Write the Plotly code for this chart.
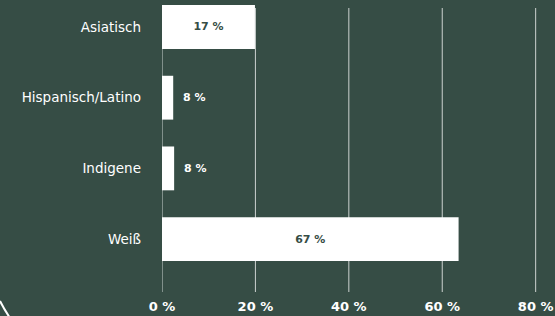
import plotly.graph_objects as go

categories = ["Asiatisch", "Hispanisch/Latino", "Indigene", "Weiß"]
bar_values = [19.9, 2.4, 2.6, 63.5]
bar_labels = ["17 %", "8 %", "8 %", "67 %"]
tick_values = [0, 20, 40, 60, 80]
tick_labels = ["0 %", "20 %", "40 %", "60 %", "80 %"]

BG = "#364d45"
FONT = "DejaVu Sans"
GRID = "rgba(255,255,255,0.75)"

inside = [v > 10 for v in bar_values]

fig = go.Figure(go.Bar(
    y=categories, x=bar_values, orientation="h",
    marker=dict(color="white", line=dict(width=0)),
    width=0.62,
    text=[t if i else "" for t, i in zip(bar_labels, inside)],
    textposition="inside",
    insidetextanchor="middle",
    insidetextfont=dict(color=BG, size=11, family=FONT, weight="bold"),
    hoverinfo="skip",
))

for cat, v, t, i in zip(categories, bar_values, bar_labels, inside):
    if not i:
        fig.add_annotation(
            x=v, y=cat, text=t, showarrow=False,
            xanchor="left", xshift=8,
            font=dict(color="white", size=11, family=FONT, weight="bold"),
        )

# plot area spans y 4..292 px; gridlines drawn from 8..292
grid_top = (292 - 8) / 288
for tv in tick_values:
    fig.add_shape(type="line", xref="x", yref="paper", x0=tv, x1=tv,
                  y0=0, y1=grid_top, layer="below",
                  line=dict(color=GRID, width=1))

fig.update_layout(
    width=555, height=316,
    margin=dict(l=162, r=10, t=4, b=24),
    paper_bgcolor=BG, plot_bgcolor=BG,
    showlegend=False,
    font=dict(family=FONT, color="white"),
    xaxis=dict(
        range=[0, 82], tickvals=tick_values, ticktext=tick_labels,
        automargin=False,
        showgrid=False, zeroline=False,
        showline=False, ticks="",
        ticklabelstandoff=5,
        tickfont=dict(size=13, color="white", family=FONT, weight="bold"),
        fixedrange=True,
    ),
    yaxis=dict(
        type="category", categoryorder="array", categoryarray=categories,
        range=[3.748, -0.325],
        automargin=False,
        showgrid=False, zeroline=False, showline=False, ticks="",
        ticklabelstandoff=20,
        tickfont=dict(size=13.5, color="white", family=FONT),
        fixedrange=True,
    ),
)

fig.add_shape(
    type="path", xref="paper", yref="paper",
    path="M %f,%f Q %f,%f %f,%f" % (
        (0 - 162) / 383, (292 - 301) / 288,
        (4 - 162) / 383, (292 - 309) / 288,
        (10 - 162) / 383, (292 - 318) / 288),
    line=dict(color="white", width=2),
)

fig.write_html(
    "out.html",
    config={"displayModeBar": False},
    post_script="document.body.style.margin='0';document.body.style.background='%s';" % BG,
)
